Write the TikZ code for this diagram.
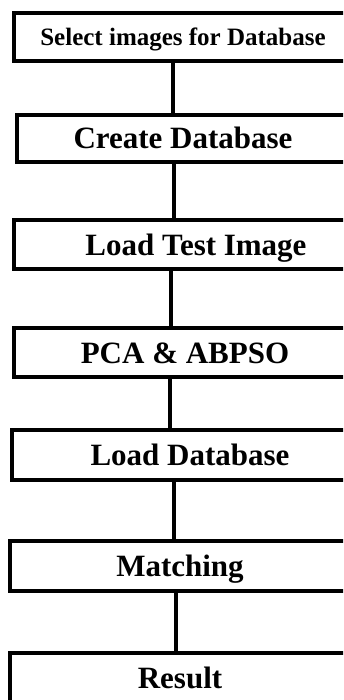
\documentclass[tikz,border=0pt]{standalone}
\usepackage{fontspec}
\setmainfont{Liberation Serif}
\begin{document}
\begin{tikzpicture}
[x=1pt, y=-1pt,
 every node/.style={draw, line width=4pt, inner sep=0pt, text depth=0pt,
   text height=21pt, font=\bfseries\fontsize{31}{31}\selectfont},
 small/.style={text height=16.5pt, font=\bfseries\fontsize{25}{25}\selectfont},
 conn/.style={line width=4pt}]
\path[use as bounding box, clip] (0,0) rectangle (343,700);
\node[small, minimum width=338pt, minimum height=48pt] (select) at (183,37) {Select images for Database};
\node[minimum width=332pt, minimum height=47pt] (create) at (183,138.5) {Create Database};
\node[minimum width=364pt, minimum height=49pt] (test) at (196,244.5) {Load Test Image};
\node[minimum width=342pt, minimum height=49pt] (pca) at (185,352.5) {PCA \& ABPSO};
\node[minimum width=356pt, minimum height=50pt] (loaddb) at (190,455) {Load Database};
\node[minimum width=340pt, minimum height=50pt] (match) at (180,566) {Matching};
\node[minimum width=340pt, minimum height=50pt] (result) at (180,678) {Result};
\draw[conn] (select.south -| 173,0) -- (create.north -| 173,0);
\draw[conn] (create.south -| 174,0) -- (test.north -| 174,0);
\draw[conn] (test.south -| 171,0) -- (pca.north -| 171,0);
\draw[conn] (pca.south -| 170,0) -- (loaddb.north -| 170,0);
\draw[conn] (loaddb.south -| 174,0) -- (match.north -| 174,0);
\draw[conn] (match.south -| 176,0) -- (result.north -| 176,0);
\end{tikzpicture}
\end{document}
